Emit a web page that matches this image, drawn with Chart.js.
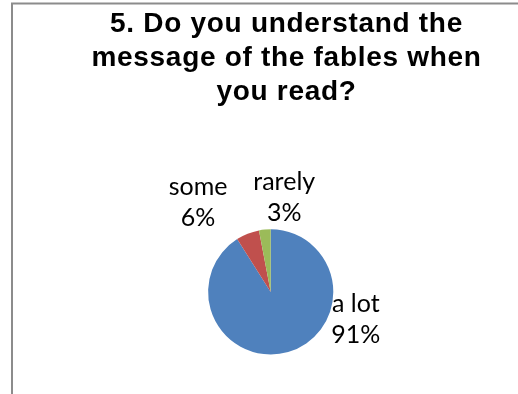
<!DOCTYPE html>
<html>
<head>
<meta charset="utf-8">
<script src="https://cdn.jsdelivr.net/npm/chart.js@4"></script>
<style>
    html, body { margin: 0; padding: 0; background: #fff; overflow: hidden; }
    #wrap { width: 518px; height: 394px; position: relative; }
</style>
</head>
<body>
<div id="wrap"><canvas id="fables-chart" width="518" height="394"></canvas></div>
<script>
const questionLines = ["5. Do you understand the", "message of the fables when", "you read?"];
const answers = ["a lot", "some", "rarely"];
const answerCounts = [91, 6, 3];
const sliceColors = ["#4F81BD", "#C0504D", "#9BBB59"];

// where each label block sits, relative to the pie centre in radius units
const labelSpots = [
    { dx: 1.36, dy: 0.315 },
    { dx: -1.16, dy: -1.54 },
    { dx: 0.216, dy: -1.63 }
];

const framePlugin = {
    id: "frame",
    beforeDraw(chart) {
        const ctx = chart.ctx;
        ctx.save();
        ctx.strokeStyle = "#8c8c8c";
        ctx.lineWidth = 2;
        ctx.beginPath();
        ctx.moveTo(12, 400);
        ctx.lineTo(12, 3.5);
        ctx.lineTo(520, 3.5);
        ctx.stroke();
        ctx.restore();
        // slightly wide title lettering
        ctx.letterSpacing = "0.7px";
    },
    beforeDatasetsDraw(chart) {
        chart.ctx.letterSpacing = "0px";
    }
};

// the pie sits a little left of the title centre
const shiftPlugin = {
    id: "shiftArea",
    afterLayout(chart) {
        chart.chartArea.left -= 15.8;
        chart.chartArea.right -= 15.8;
    }
};

const labelPlugin = {
    id: "sliceLabels",
    afterDatasetsDraw(chart) {
        const ctx = chart.ctx;
        const data = chart.data.datasets[0].data;
        const total = data.reduce((a, b) => a + b, 0);
        const arcs = chart.getDatasetMeta(0).data;
        ctx.save();
        ctx.letterSpacing = "0px";
        ctx.font = "25px Lato";
        ctx.fillStyle = "#000";
        ctx.textAlign = "center";
        ctx.textBaseline = "alphabetic";
        arcs.forEach((arc, i) => {
            const r = arc.outerRadius;
            const spot = labelSpots[i];
            const x = arc.x + spot.dx * r;
            const y = arc.y + spot.dy * r;
            const pct = Math.round(data[i] / total * 100) + "%";
            ctx.fillText(chart.data.labels[i], x, y);
            ctx.fillText(pct, x, y + 31);
        });
        ctx.restore();
    }
};

new Chart(document.getElementById("fables-chart"), {
    type: "pie",
    data: {
        labels: answers,
        datasets: [{
            data: answerCounts,
            backgroundColor: sliceColors,
            borderWidth: 0
        }]
    },
    options: {
        responsive: false,
        animation: false,
        layout: {
            padding: { left: 55, right: 0, top: 7, bottom: 39.5 }
        },
        plugins: {
            legend: { display: false },
            tooltip: { enabled: false },
            title: {
                display: true,
                text: questionLines,
                color: "#000",
                font: { family: "'Liberation Sans', Arial, sans-serif", size: 28, weight: "bold", lineHeight: "34px" },
                padding: { top: 0, bottom: 120.3 }
            }
        }
    },
    plugins: [framePlugin, shiftPlugin, labelPlugin]
});
</script>
</body>
</html>
